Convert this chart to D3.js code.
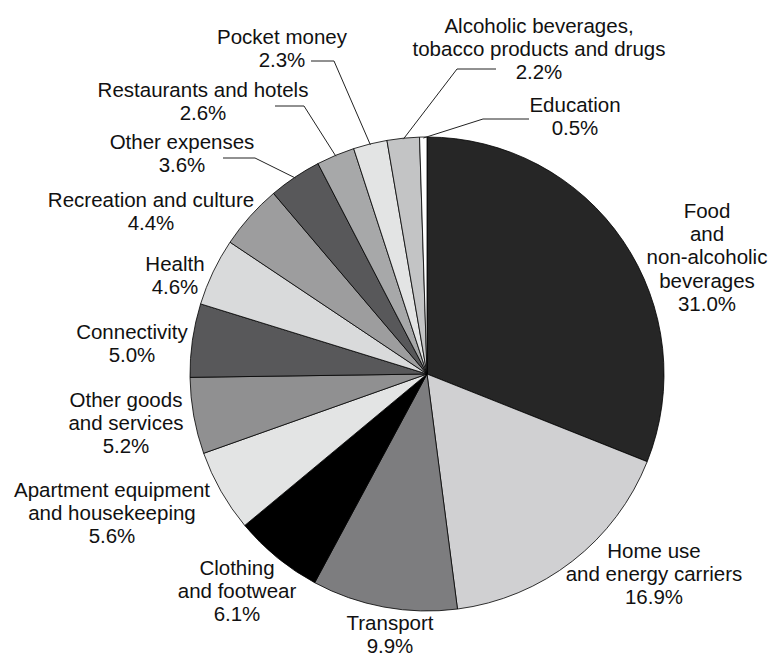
<!DOCTYPE html>
<html>
<head>
<meta charset="utf-8">
<script src="https://cdn.jsdelivr.net/npm/d3@7"></script>
<style>
  html, body { margin: 0; padding: 0; background: #fff; }
  svg { display: block; }
  text { font-family: "Liberation Sans", Arial, sans-serif; font-size: 20.5px; fill: #111; }
</style>
</head>
<body>
<svg id="chart" width="770" height="657"></svg>
<script>
// ---- data ----
const categories = [
  "Food and non-alcoholic beverages",
  "Home use and energy carriers",
  "Transport",
  "Clothing and footwear",
  "Apartment equipment and housekeeping",
  "Other goods and services",
  "Connectivity",
  "Health",
  "Recreation and culture",
  "Other expenses",
  "Restaurants and hotels",
  "Pocket money",
  "Alcoholic beverages, tobacco products and drugs",
  "Education"
];
const values = [31.0, 16.9, 9.9, 6.1, 5.6, 5.2, 5.0, 4.6, 4.4, 3.6, 2.6, 2.3, 2.2, 0.5];
const labelLines = [
  ["Food", "and", "non-alcoholic", "beverages"],
  ["Home use", "and energy carriers"],
  ["Transport"],
  ["Clothing", "and footwear"],
  ["Apartment equipment", "and housekeeping"],
  ["Other goods", "and services"],
  ["Connectivity"],
  ["Health"],
  ["Recreation and culture"],
  ["Other expenses"],
  ["Restaurants and hotels"],
  ["Pocket money"],
  ["Alcoholic beverages,", "tobacco products and drugs"],
  ["Education"]
];

// ---- styling / layout (not data) ----
const fills = ["#262626", "#d0d0d2", "#7d7d7f", "#000000", "#e3e4e4", "#909091",
               "#58585a", "#d9dadb", "#9d9d9e", "#58585a", "#a7a8a9", "#e3e4e4",
               "#c3c4c5", "#ffffff"];
// label anchor: [centre x, first baseline y]
const labelAnchor = [
  [707, 218], [654, 558], [390, 630], [237, 575], [112, 497], [126, 407],
  [132, 339], [175, 271], [151, 207], [182, 149], [203, 97], [282, 44],
  [539, 33], [575, 112]
];
// leader lines: [elbow x, elbow y, end x] (null = none)
const leaders = [
  null, null, null, null, null, null, null, null, null,
  [255, 158, 223], [304, 106, 275], [334, 61, 311], [457, 69, 496], [483, 119, 529]
];
const lineH = 23.2;

const svg = d3.select("#chart");
const cx = 427, cy = 374, R = 237;
const g = svg.append("g").attr("transform", `translate(${cx},${cy})`);

const pie = d3.pie().sort(null).value(d => d).startAngle(0).endAngle(2 * Math.PI);
const arcs = pie(values);
const arc = d3.arc().innerRadius(0).outerRadius(R);

g.selectAll("path.slice")
  .data(arcs)
  .enter().append("path")
  .attr("class", "slice")
  .attr("d", arc)
  .attr("fill", (d, i) => fills[i])
  .attr("stroke", "#000")
  .attr("stroke-width", 0.8)
  .attr("stroke-linejoin", "round");

// leader lines
arcs.forEach((a, i) => {
  const L = leaders[i];
  if (!L) return;
  const mid = (a.startAngle + a.endAngle) / 2;
  const px = cx + (R - 1) * Math.sin(mid);
  const py = cy - (R - 1) * Math.cos(mid);
  svg.append("polyline")
    .attr("points", `${px},${py} ${L[0]},${L[1]} ${L[2]},${L[1]}`)
    .attr("fill", "none")
    .attr("stroke", "#222")
    .attr("stroke-width", 1);
});

// labels
arcs.forEach((a, i) => {
  const [x, y] = labelAnchor[i];
  const lines = labelLines[i].concat([d3.format(".1f")(values[i]) + "%"]);
  const t = svg.append("text").attr("text-anchor", "middle");
  lines.forEach((ln, k) => {
    t.append("tspan").attr("x", x).attr("y", y + k * lineH).text(ln);
  });
});
</script>
</body>
</html>
